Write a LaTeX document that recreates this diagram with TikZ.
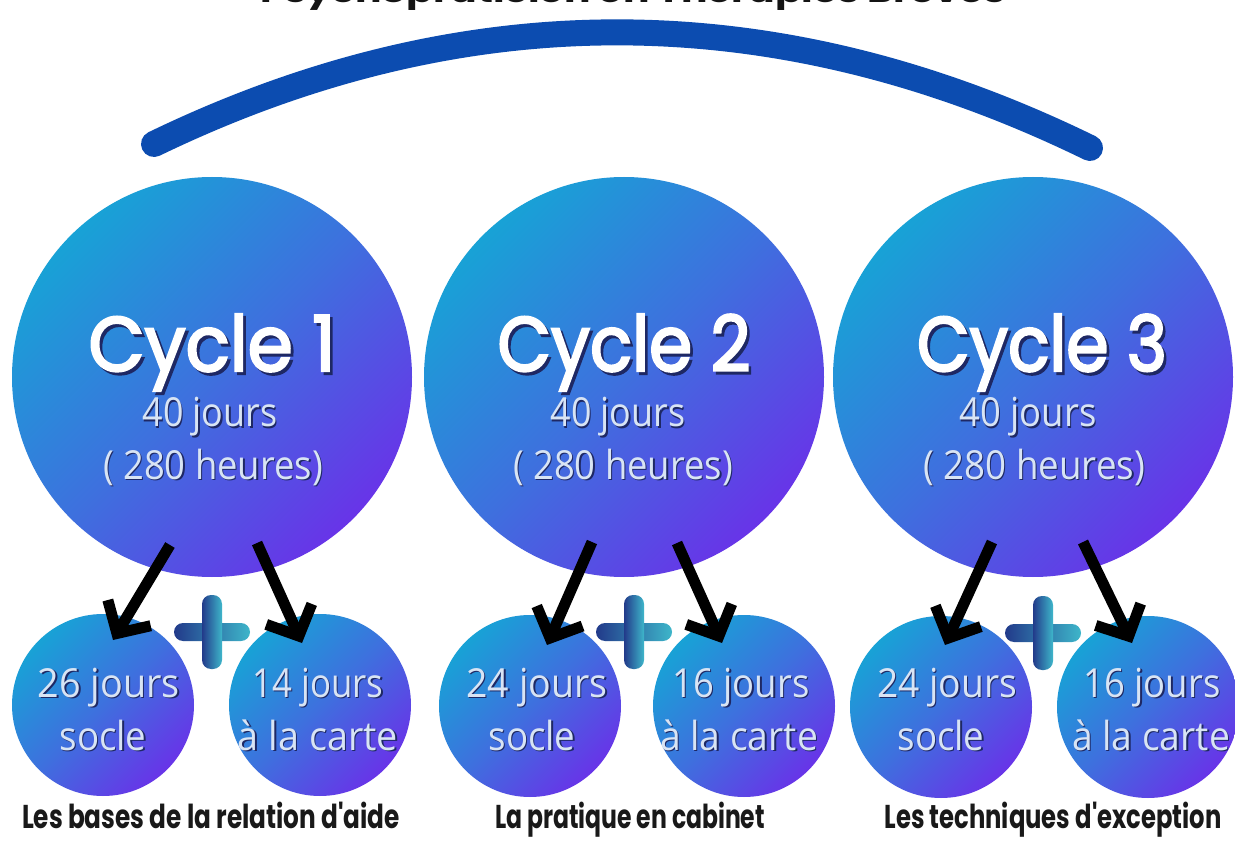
\documentclass[tikz,border=0pt]{standalone}
\usepackage{fontspec}
\usepackage{graphicx}
\usetikzlibrary{arrows.meta}
\newfontfamily\popfont{Poppins}
\newfontfamily\popcyc{Poppins}[FakeBold=3]
\newfontfamily\osfont{Open Sans}
\definecolor{cyanA}{RGB}{24,162,214}
\definecolor{midA}{RGB}{62,112,222}
\definecolor{violA}{RGB}{104,52,232}
\definecolor{arcblue}{RGB}{12,76,176}
\definecolor{plusL}{RGB}{34,58,138}
\definecolor{plusR}{RGB}{62,182,202}
\definecolor{softwhite}{RGB}{216,228,244}
\definecolor{shadowc}{RGB}{30,40,100}
\newcommand\fitw[2]{\resizebox{#1}{\height}{#2}}
% text with a drop shadow inside the same box
\newcommand\shd[2]{\makebox[0pt][l]{\hspace*{#1}\raisebox{-#1}{\textcolor{shadowc}{#2}}}#2}
\tikzset{
  bigc/.style={circle, minimum size=400pt, inner sep=0pt, top color=cyanA, bottom color=violA, middle color=midA, shading angle=45},
  smallc/.style={circle, minimum size=182pt, inner sep=0pt, top color=cyanA, bottom color=violA, middle color=midA, shading angle=45},
  cyct/.style={text=white, inner sep=0pt, anchor=base, text depth=0pt, font=\popcyc\fontsize{77}{80}\selectfont},
  dayt/.style={text=softwhite, inner sep=0pt, anchor=base, text depth=0pt, text height=29pt, font=\osfont\fontsize{40}{44}\selectfont},
  lab/.style={text=black!90, inner sep=0pt, anchor=base, font=\popfont\bfseries\fontsize{33}{36}\selectfont},
  arr/.style={line width=11pt, black, -{Straight Barb[length=24pt,width=50pt]}},
  plusbar/.style={left color=plusL, right color=plusR, rounded corners=9pt}
}
\begin{document}
\begin{tikzpicture}[x=1pt,y=-1pt]
\useasboundingbox (0,0) rectangle (1235,842);
\fill[white] (0,0) rectangle (1235,842);
% clipped title
\node[lab, text=black!92, font=\popfont\bfseries\fontsize{30}{34}\selectfont] (title) at (633,3) {\fitw{745pt}{Psychopraticien en Thérapies Brèves}};
% arc
\coordinate (arcL) at (154,144);
\coordinate (arcR) at (1090,148);
\draw[arcblue, line width=26pt, line cap=round] (arcL) .. controls (464,-6) and (777,-5) .. (arcR);
% big circles
\node[bigc] (c1) at (212,377) {};
\node[bigc] (c2) at (624,377) {};
\node[bigc] (c3) at (1033,377) {};
% small circles
\node[smallc] (s1a) at (103,705) {};
\node[smallc] (s1b) at (320,705) {};
\node[smallc] (s2a) at (530,706) {};
\node[smallc] (s2b) at (744,706) {};
\node[smallc] (s3a) at (941,707) {};
\node[smallc] (s3b) at (1148,707) {};
% plus signs
\foreach \px/\py in {212/632, 634/632, 1043/633}{
  \shade[plusbar] (\px-38,\py-9) rectangle (\px+38,\py+9);
  \shade[plusbar] (\px-10,\py-37) rectangle (\px+10,\py+37);
}
% cycle texts
\node[cyct] (t1) at (212,371) {\fitw{247pt}{\shd{3pt}{Cycle 1}}};
\node[cyct] (t2) at (624,371) {\fitw{253pt}{\shd{3pt}{Cycle 2}}};
\node[cyct] (t3) at (1042,371) {\fitw{250pt}{\shd{3pt}{Cycle 3}}};
\node[dayt] (d1) at (210,427) {\fitw{135pt}{\shd{1.5pt}{40 jours}}};
\node[dayt] (d2) at (618,427) {\fitw{135pt}{\shd{1.5pt}{40 jours}}};
\node[dayt] (d3) at (1028,427) {\fitw{137pt}{\shd{1.5pt}{40 jours}}};
\node[dayt] (h1) at (213,479) {\fitw{220pt}{\shd{1.5pt}{( 280 heures)}}};
\node[dayt] (h2) at (623,479) {\fitw{220pt}{\shd{1.5pt}{( 280 heures)}}};
\node[dayt] (h3) at (1034,479) {\fitw{222pt}{\shd{1.5pt}{( 280 heures)}}};
% small circle texts
\node[dayt] (j1a) at (109,697) {\fitw{142pt}{\shd{1.5pt}{26 jours}}};
\node[dayt] (k1a) at (103,750) {\fitw{87pt}{\shd{1.5pt}{socle}}};
\node[dayt] (j1b) at (318,697) {\fitw{131pt}{\shd{1.5pt}{14 jours}}};
\node[dayt] (k1b) at (318,750) {\fitw{160pt}{\shd{1.5pt}{à la carte}}};
\node[dayt] (j2a) at (537,697) {\fitw{141pt}{\shd{1.5pt}{24 jours}}};
\node[dayt] (k2a) at (532,750) {\fitw{87pt}{\shd{1.5pt}{socle}}};
\node[dayt] (j2b) at (741,697) {\fitw{137pt}{\shd{1.5pt}{16 jours}}};
\node[dayt] (k2b) at (739,750) {\fitw{158pt}{\shd{1.5pt}{à la carte}}};
\node[dayt] (j3a) at (947,697) {\fitw{140pt}{\shd{1.5pt}{24 jours}}};
\node[dayt] (k3a) at (941,750) {\fitw{87pt}{\shd{1.5pt}{socle}}};
\node[dayt] (j3b) at (1152,697) {\fitw{137pt}{\shd{1.5pt}{16 jours}}};
\node[dayt] (k3b) at (1151,750) {\fitw{158pt}{\shd{1.5pt}{à la carte}}};
% arrows
\coordinate (a1ls) at (170,545); \coordinate (a1lt) at (113,640);
\coordinate (a1rs) at (257,543); \coordinate (a1rt) at (302,643);
\coordinate (a2ls) at (592,542); \coordinate (a2lt) at (547,645);
\coordinate (a2rs) at (677,543); \coordinate (a2rt) at (722,643);
\coordinate (a3ls) at (992,542); \coordinate (a3lt) at (945,645);
\coordinate (a3rs) at (1083,542); \coordinate (a3rt) at (1132,643);
\draw[arr] (a1ls) -- (a1lt);
\draw[arr] (a1rs) -- (a1rt);
\draw[arr] (a2ls) -- (a2lt);
\draw[arr] (a2rs) -- (a2rt);
\draw[arr] (a3ls) -- (a3lt);
\draw[arr] (a3rs) -- (a3rt);
% bottom labels
\node[lab] (b1) at (211,828) {\fitw{378pt}{Les bases de la relation d'aide}};
\node[lab] (b2) at (630,828) {\fitw{270pt}{La pratique en cabinet}};
\node[lab] (b3) at (1053,828) {\fitw{337pt}{Les techniques d'exception}};
\end{tikzpicture}
\end{document}
